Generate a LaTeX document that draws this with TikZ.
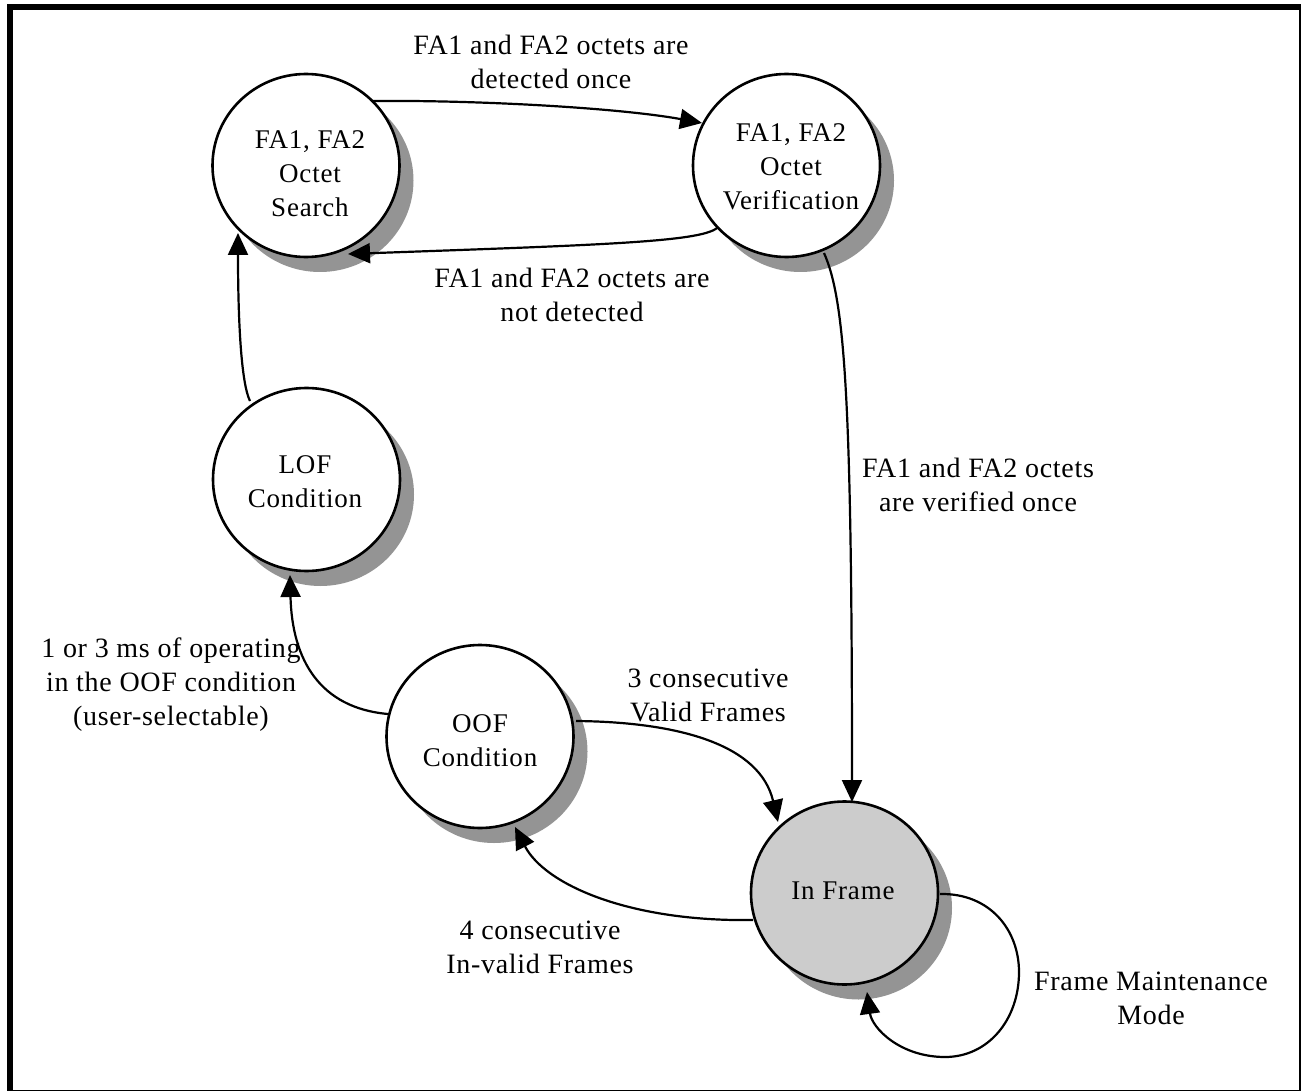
\documentclass[tikz,border=0pt]{standalone}
\usepackage{fontspec}
\setmainfont{Liberation Serif}
\usetikzlibrary{arrows.meta,shapes.geometric,shadows}
\definecolor{shgray}{RGB}{148,148,148}
\definecolor{infill}{RGB}{204,204,204}
\newfontfamily\nodefont[LetterSpace=3]{Liberation Serif}
\newfontfamily\labfont[LetterSpace=2.5]{Liberation Serif}
\tikzset{
  statebox/.style={ellipse, draw=black, line width=2.6pt, fill=white, inner sep=0pt,
    minimum width=187pt, minimum height=183pt,
    drop shadow={shadow xshift=14pt, shadow yshift=-15pt, opacity=1, fill=shgray, draw=none}},
  statetext/.style={align=center, anchor=base, inner sep=0pt,
    font=\nodefont\fontsize{27}{34}\selectfont},
  edgetext/.style={align=center, anchor=base, inner sep=0pt,
    font=\labfont\fontsize{28}{34}\selectfont},
  conn/.style={line width=2.2pt, -{Triangle[length=22pt,width=20pt]}},
}
\begin{document}
\begin{tikzpicture}[x=1pt,y=-1pt]
\useasboundingbox (0,0) rectangle (1301,1091);
% frame
\fill[black] (7,4) rectangle (1301,10);
\fill[black] (7,4) rectangle (13,1091);
\fill[black] (1298.5,4) rectangle (1301,1091);
\fill[black] (7,1089.5) rectangle (1301,1091);
% states
\node[statebox] (search) at (306,165.5) {};
\node[statebox] (verif) at (786.5,165.5) {};
\node[statebox] (lof) at (306.5,479.5) {};
\node[statebox] (oof) at (480,736.5) {};
\node[statebox, fill=infill] (inf) at (844.5,893) {};
% state texts (anchor = baseline of last line)
\node[statetext] (tsearch) at (310,217) {FA1, FA2\\Octet\\Search};
\node[statetext] (tverif) at (791,210) {FA1, FA2\\Octet\\Verification};
\node[statetext] (tlof) at (305,507) {LOF\\Condition};
\node[statetext] (toof) at (480,766) {OOF\\Condition};
\node[statetext] (tinf) at (843,899) {In Frame};
% connectors
\draw[conn] ([shift={(66,-64.5)}]search.center) .. controls (480,100) and (620,108) .. ([shift={(-84.5,-42.5)}]verif.center);
\draw[conn] ([shift={(-69.5,62.5)}]verif.center) .. controls (700,242) and (600,245) .. ([shift={(42,88.5)}]search.center);
\draw[conn] ([shift={(-56.5,-78.5)}]lof.center) .. controls (242,385) and (238,330) .. ([shift={(-68,67.5)}]search.center);
\draw[conn] ([shift={(-92,-22.5)}]oof.center) .. controls (320,708) and (292,660) .. ([shift={(-16.5,95.5)}]lof.center);
\draw[conn] ([shift={(96,-15.5)}]oof.center) .. controls (680,722) and (760,745) .. ([shift={(-66.5,-71)}]inf.center);
\draw[conn] ([shift={(37.5,87.5)}]verif.center) .. controls (845,300) and (852,400) .. ([shift={(7.5,-91)}]inf.center);
\draw[conn] ([shift={(-91.5,27)}]inf.center) .. controls (630,922) and (545,885) .. ([shift={(35,90.5)}]oof.center);
\draw[conn] ([shift={(95.5,1)}]inf.center) .. controls (990,893) and (1019,930) .. (1019,972)
   .. controls (1019,1020) and (988,1057) .. (945,1057)
   .. controls (900,1057) and (872,1028) .. ([shift={(22.5,99)}]inf.center);
% labels (anchor = baseline of last line)
\node[edgetext] (l1) at (551,89) {FA1 and FA2 octets are\\detected once};
\node[edgetext] (l2) at (572,321) {FA1 and FA2 octets are\\not detected};
\node[edgetext] (l3) at (978,511) {FA1 and FA2 octets\\are verified once};
\node[edgetext] (l4) at (171,725) {1 or 3 ms of operating\\in the OOF condition\\(user-selectable)};
\node[edgetext] (l5) at (708,721) {3 consecutive\\Valid Frames};
\node[edgetext] (l6) at (540,973) {4 consecutive\\In-valid Frames};
\node[edgetext] (l7) at (1151,1024) {Frame Maintenance\\Mode};
\end{tikzpicture}
\end{document}
